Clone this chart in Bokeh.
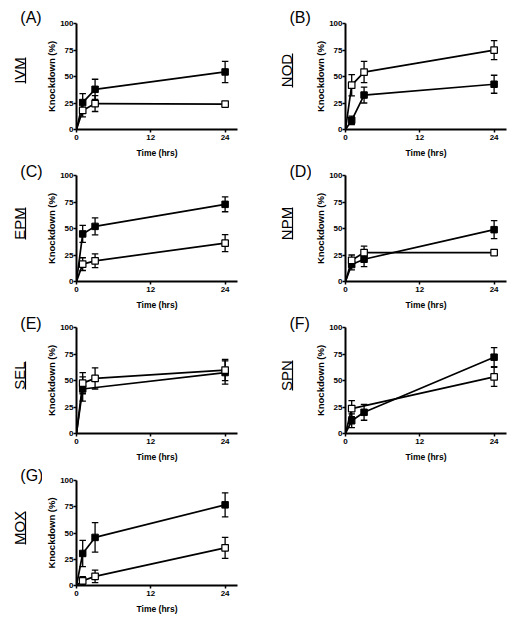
import math
from bokeh.plotting import figure
from bokeh.layouts import column, row
from bokeh.models import Range1d, FixedTicker, Title
from bokeh.embed import file_html
from bokeh.resources import INLINE

# ---------------- data ----------------
TIME = [0, 1, 3, 24]
X_TICKS = [0, 12, 24]
Y_TICKS = [0, 25, 50, 75, 100]
PANEL_LETTERS = ["(A)", "(B)", "(C)", "(D)", "(E)", "(F)", "(G)"]
DRUGS = ["IVM", "NOD", "EPM", "NPM", "SEL", "SPN", "MOX"]

IVM_FILLED = [0, 25.4, 37.9, 54.3]
IVM_FILLED_ERR = [0, 8.5, 9.5, 10]
IVM_OPEN = [0, 18.0, 24.5, 24.0]
IVM_OPEN_ERR = [0, 6, 7.5, 0]

NOD_FILLED = [0, 8.7, 32.5, 42.7]
NOD_FILLED_ERR = [0, 4, 7.5, 8.5]
NOD_OPEN = [0, 41.8, 54.2, 74.9]
NOD_OPEN_ERR = [0, 10, 10, 9]

EPM_FILLED = [0, 44.9, 52.0, 72.8]
EPM_FILLED_ERR = [0, 8, 8, 7]
EPM_OPEN = [0, 16.4, 19.5, 36.2]
EPM_OPEN_ERR = [0, 6, 6.5, 8]

NPM_FILLED = [0, 16.0, 21.0, 48.9]
NPM_FILLED_ERR = [0, 5, 7, 8.5]
NPM_OPEN = [0, 20.0, 27.3, 27.3]
NPM_OPEN_ERR = [0, 5, 6, 0]

SEL_FILLED = [0, 42.0, None, 57.5]
SEL_FILLED_ERR = [0, 11.5, None, 11]
SEL_OPEN = [0, 47.5, 52.0, 59.8]
SEL_OPEN_ERR = [0, 10, 10, 10]

SPN_FILLED = [0, 12.0, 20.0, 72.0]
SPN_FILLED_ERR = [0, 6.5, 7.5, 9]
SPN_OPEN = [0, 23.5, None, 53.4]
SPN_OPEN_ERR = [0, 7.5, None, 9]

MOX_FILLED = [0, 30.5, 45.8, 76.8]
MOX_FILLED_ERR = [0, 12.5, 14, 11.5]
MOX_OPEN = [0, 4.5, 8.7, 35.9]
MOX_OPEN_ERR = [0, 4, 6, 10]

SERIES = [
    (IVM_FILLED, IVM_FILLED_ERR, IVM_OPEN, IVM_OPEN_ERR),
    (NOD_FILLED, NOD_FILLED_ERR, NOD_OPEN, NOD_OPEN_ERR),
    (EPM_FILLED, EPM_FILLED_ERR, EPM_OPEN, EPM_OPEN_ERR),
    (NPM_FILLED, NPM_FILLED_ERR, NPM_OPEN, NPM_OPEN_ERR),
    (SEL_FILLED, SEL_FILLED_ERR, SEL_OPEN, SEL_OPEN_ERR),
    (SPN_FILLED, SPN_FILLED_ERR, SPN_OPEN, SPN_OPEN_ERR),
    (MOX_FILLED, MOX_FILLED_ERR, MOX_OPEN, MOX_OPEN_ERR),
]

# ---------------- style / geometry ----------------
FONT = "Liberation Sans"
FW, FH = 161, 108          # plot frame size (px)
XMAX = 26
CHAR_EM = {"I": 0.278, "V": 0.667, "M": 0.833, "N": 0.722, "O": 0.778,
           "D": 0.722, "E": 0.667, "P": 0.667, "S": 0.667, "L": 0.556, "X": 0.667}
NAME_SIZE = 15
LETTER_SIZE = 16
# per row: (top border, bottom border)
ROW_BORDERS = [(23, 29), (15, 29), (15, 29), (16, 28)]
# per column: (strip width, plot right border, letter left edge, underline x)
COLS = [(42, 21, 19.8, 25), (53, 2, 31.0, 34)]
PLOT_LEFT = 34
NAME_FRAME_H = 90


def clean(t, v, e):
    xs, ys, es = [], [], []
    for ti, vi, ei in zip(t, v, e):
        if vi is None:
            continue
        xs.append(ti); ys.append(vi); es.append(ei)
    return xs, ys, es


def draw_series(p, v, e):
    xs, ys, es = clean(TIME, v, e)
    p.line(xs, ys, line_width=1.7, line_color="black")
    bx = [x for x, er in zip(xs, es) if er and er > 0]
    lo = [y - er for y, er in zip(ys, es) if er and er > 0]
    hi = [y + er for y, er in zip(ys, es) if er and er > 0]
    if bx:
        p.segment(x0=bx, y0=lo, x1=bx, y1=hi, line_width=1.3, line_color="black")
        p.scatter(bx + bx, lo + hi, marker="dash", size=6.5, line_width=1.3,
                  line_color="black")
    return xs, ys


def make_label_strip(i, col, rw):
    W, _, letter_left, ux = COLS[col]
    bt, bb = ROW_BORDERS[rw]
    H = bt + FH + bb
    top = bt + 2
    bottom = H - top - NAME_FRAME_H
    half = NAME_FRAME_H / 2
    s = figure(title=None, width=W, height=H,
               x_range=Range1d(0, 1), y_range=Range1d(-half, half),
               output_backend="svg", toolbar_location=None,
               min_border_left=ux, min_border_right=0,
               min_border_top=top, min_border_bottom=bottom,
               x_axis_location=None, y_axis_location="left",
               frame_align=False)
    s.outline_line_color = None
    s.grid.visible = False
    s.background_fill_color = None
    s.border_fill_color = "white"

    name = DRUGS[i]
    L = sum(CHAR_EM.get(c, 0.6) for c in name) * NAME_SIZE
    ax = s.yaxis[0]
    ax.ticker = FixedTicker(ticks=[])
    ax.bounds = (-L / 2, L / 2)
    ax.axis_line_width = 1.2
    ax.axis_line_color = "black"
    ax.major_tick_out = 0
    ax.major_tick_in = 0
    ax.minor_tick_out = 0
    ax.minor_tick_in = 0
    ax.major_label_standoff = 0
    ax.major_label_text_font_size = "1px"
    ax.axis_label = name
    ax.axis_label_text_font = FONT
    ax.axis_label_text_font_style = "normal"
    ax.axis_label_text_font_size = f"{NAME_SIZE}px"
    ax.axis_label_text_color = "black"
    ax.axis_label_standoff = -2

    s.add_layout(Title(text=PANEL_LETTERS[i], align="left", offset=letter_left - ux,
                       standoff=0, text_font=FONT, text_font_style="normal",
                       text_font_size=f"{LETTER_SIZE}px", text_color="black"),
                 "above")
    return s


def make_panel(i, col, rw):
    filled, ferr, opened, oerr = SERIES[i]
    br = COLS[col][1]
    bt, bb = ROW_BORDERS[rw]
    p = figure(width=PLOT_LEFT + FW + br, height=bt + FH + bb,
               x_range=Range1d(0, XMAX), y_range=Range1d(0, 100),
               output_backend="svg", toolbar_location=None,
               min_border_left=PLOT_LEFT, min_border_right=br,
               min_border_top=bt, min_border_bottom=bb,
               frame_align=False)
    p.outline_line_color = None
    p.grid.visible = False
    p.background_fill_color = "white"
    p.border_fill_color = "white"

    for ax in (p.xaxis[0], p.yaxis[0]):
        ax.axis_line_width = 2
        ax.axis_line_color = "black"
        ax.major_tick_line_width = 1.5
        ax.major_tick_out = 3
        ax.major_tick_in = 0
        ax.minor_tick_out = 0
        ax.minor_tick_in = 0
        ax.major_label_text_font = FONT
        ax.major_label_text_font_style = "bold"
        ax.major_label_text_font_size = "8px"
        ax.major_label_text_color = "black"
        ax.axis_label_text_font = FONT
        ax.axis_label_text_font_style = "bold"
        ax.axis_label_text_color = "black"
    p.xaxis.ticker = FixedTicker(ticks=X_TICKS)
    p.yaxis.ticker = FixedTicker(ticks=Y_TICKS)
    p.xaxis.axis_label = "Time (hrs)"
    p.yaxis.axis_label = "Knockdown (%)"
    p.xaxis.axis_label_text_font_size = "8.5px"
    p.yaxis.axis_label_text_font_size = "9.5px"
    p.xaxis.major_label_standoff = 2
    p.yaxis.major_label_standoff = 0
    p.xaxis.axis_label_standoff = 5
    p.yaxis.axis_label_standoff = 0

    fx, fy = draw_series(p, filled, ferr)
    ox, oy = draw_series(p, opened, oerr)
    p.scatter([x for x in fx if x > 0], [y for x, y in zip(fx, fy) if x > 0],
              marker="square", size=6.5, fill_color="black", line_color="black",
              line_width=1)
    p.scatter([x for x in ox if x > 0], [y for x, y in zip(ox, oy) if x > 0],
              marker="square", size=6.5, fill_color="white", line_color="black",
              line_width=1.2)
    return p


rows = []
for rw in range(4):
    items = []
    for col in range(2):
        i = rw * 2 + col
        if i >= 7:
            continue
        items.append(make_label_strip(i, col, rw))
        items.append(make_panel(i, col, rw))
    rows.append(row(*items))

layout = column(*rows)

open("out.html", "w").write(file_html(layout, INLINE))
